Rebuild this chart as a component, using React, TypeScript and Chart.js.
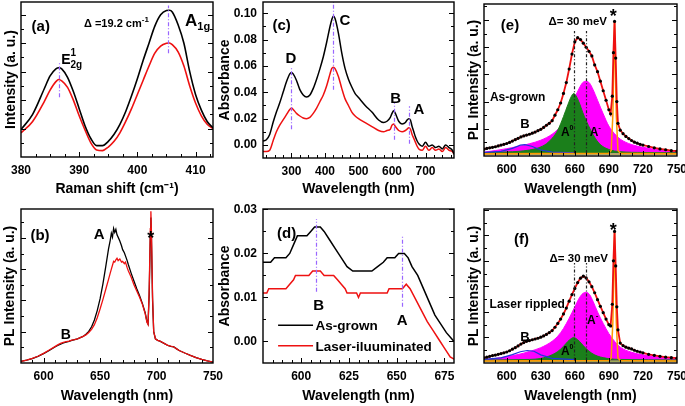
import React, { useEffect, useRef } from 'react';
import { Chart, registerables } from 'chart.js';

Chart.register(...registerables);

const FONT = '"Liberation Sans", Arial, Helvetica, sans-serif';
const W = 685;
const H = 406;
const RED = '#ee1111';
const PURPLE = '#9966ff';

// ---------------- (a) Raman ----------------
const ramanShift = [380, 382, 384, 385, 386, 386.5, 387, 388, 389, 390, 391, 392, 393, 394, 395, 396, 397, 398, 399, 400, 401, 402, 403, 404, 405, 405.5, 406, 407, 408, 409, 410, 411, 412, 413];
const ramanAsGrown = [1.93, 3.0, 4.8, 5.7, 6.2, 6.28, 6.2, 5.6, 4.6, 3.4, 2.2, 1.3, 0.8, 0.8, 1.1, 1.6, 2.3, 3.2, 4.3, 5.5, 6.8, 8.0, 9.2, 10.0, 10.3, 10.32, 10.2, 9.3, 8.0, 6.0, 4.4, 3.3, 2.5, 2.05];
const ramanLaser = [1.7, 2.5, 3.9, 4.7, 5.3, 5.45, 5.35, 4.9, 4.0, 2.9, 1.9, 1.0, 0.5, 0.45, 0.7, 1.1, 1.7, 2.5, 3.4, 4.4, 5.4, 6.4, 7.3, 7.8, 8.0, 8.02, 7.9, 7.4, 6.4, 5.0, 3.8, 2.9, 2.3, 2.0];
const ramanTicks = [380, 390, 400, 410];

// ---------------- (b) PL ----------------
const bWl = [580, 585, 590, 595, 600, 605, 610, 612.5, 615, 617.5, 620, 622.5, 625, 627.5, 630, 632.5, 635, 637.5, 640, 642.5, 645, 647.5, 650, 652.5, 655, 657.5, 659, 660, 661, 662, 663, 664, 665, 666, 667.5, 669, 670, 671.5, 672.5, 674, 675, 677.5, 680, 682.5, 685, 687.5, 690, 691.5, 692.5, 693.5, 694.5, 695, 695.5, 696.5, 697.5, 699, 701, 703, 705, 707.5, 710, 712.5, 715, 717.5, 720, 725, 730, 735, 740, 745, 750];
const bAsGrown = [0.10, 0.18, 0.28, 0.42, 0.60, 0.80, 1.02, 1.12, 1.20, 1.28, 1.34, 1.38, 1.44, 1.50, 1.55, 1.62, 1.70, 1.84, 2.02, 2.32, 2.75, 3.35, 4.10, 5.05, 6.15, 7.30, 7.85, 8.30, 8.05, 8.60, 8.35, 8.55, 8.20, 8.05, 7.80, 7.50, 7.25, 7.05, 6.85, 6.55, 6.30, 5.75, 5.25, 4.75, 4.30, 3.80, 3.20, 2.65, 2.50, 4.40, 8.10, 9.30, 8.00, 4.00, 2.00, 1.55, 1.45, 1.40, 1.32, 1.22, 1.12, 1.06, 1.04, 0.92, 0.80, 0.64, 0.49, 0.35, 0.23, 0.13, 0.06];
const bLaser = [0.10, 0.18, 0.29, 0.43, 0.62, 0.83, 1.05, 1.16, 1.26, 1.32, 1.36, 1.40, 1.46, 1.50, 1.55, 1.62, 1.70, 1.80, 1.95, 2.15, 2.45, 2.90, 3.45, 4.05, 4.70, 5.35, 5.75, 6.00, 6.25, 6.50, 6.45, 6.60, 6.70, 6.55, 6.65, 6.45, 6.50, 6.35, 6.45, 6.10, 5.90, 5.50, 5.00, 4.60, 4.20, 3.75, 3.15, 2.60, 2.45, 4.70, 8.60, 9.70, 8.40, 4.20, 2.00, 1.55, 1.45, 1.40, 1.33, 1.22, 1.13, 1.08, 1.04, 0.92, 0.80, 0.64, 0.49, 0.35, 0.23, 0.13, 0.06];
const bTicks = [600, 650, 700, 750];

// ---------------- (c) Absorbance ----------------
const cWl = [215, 225, 235, 245, 255, 265, 275, 285, 295, 300, 305, 315, 325, 335, 345, 355, 365, 375, 385, 395, 405, 415, 420, 425, 430, 440, 450, 460, 470, 480, 490, 500, 520, 540, 560, 575, 585, 595, 600, 605, 610, 620, 630, 640, 645, 650, 655, 660, 665, 670, 675, 680, 690, 700, 710, 720, 730, 740, 750, 760, 770, 780, 785];
const cAsGrown = [0.003, 0.004, 0.008, 0.017, 0.025, 0.032, 0.040, 0.048, 0.054, 0.055, 0.054, 0.049, 0.042, 0.038, 0.0365, 0.038, 0.043, 0.050, 0.058, 0.067, 0.078, 0.090, 0.095, 0.098, 0.096, 0.085, 0.070, 0.058, 0.050, 0.044, 0.039, 0.036, 0.030, 0.025, 0.019, 0.017, 0.018, 0.021, 0.024, 0.026, 0.024, 0.018, 0.016, 0.017, 0.019, 0.020, 0.019, 0.014, 0.010, 0.006, 0.003, 0.001, -0.001, 0.002, -0.001, 0.000, -0.002, -0.001, -0.003, 0.000, -0.002, -0.004, -0.007];
const cLaser = [-0.005, -0.005, -0.004, 0.003, 0.010, 0.015, 0.019, 0.023, 0.027, 0.028, 0.027, 0.024, 0.022, 0.0205, 0.020, 0.021, 0.024, 0.028, 0.033, 0.038, 0.045, 0.054, 0.058, 0.059, 0.058, 0.052, 0.043, 0.035, 0.030, 0.025, 0.022, 0.020, 0.017, 0.014, 0.011, 0.010, 0.011, 0.012, 0.015, 0.016, 0.014, 0.011, 0.010, 0.011, 0.012, 0.013, 0.012, 0.008, 0.005, 0.002, -0.001, -0.003, -0.004, -0.001, -0.004, -0.002, -0.004, -0.003, -0.005, -0.002, -0.004, -0.005, -0.007];
const cXTicks = [300, 400, 500, 600, 700];
const cYTicks = [0, 0.02, 0.04, 0.06, 0.08, 0.1];

// ---------------- (d) Absorbance zoom ----------------
const dWlAsGrown = [580, 584, 586, 592, 594, 596, 598, 603, 605, 607, 610, 612, 615, 618, 621, 624, 627, 637, 640, 643, 645, 649, 651, 654, 656, 658, 661, 664, 667, 670, 673, 676, 680];
const dAsGrown = [0.018, 0.018, 0.019, 0.019, 0.020, 0.022, 0.024, 0.024, 0.025, 0.026, 0.026, 0.025, 0.023, 0.021, 0.019, 0.017, 0.016, 0.016, 0.017, 0.018, 0.019, 0.019, 0.020, 0.020, 0.019, 0.017, 0.015, 0.012, 0.009, 0.006, 0.004, 0.002, 0.000];
const dWlLaser = [580, 582, 583, 592, 594, 596, 597, 604, 606, 610, 612, 617, 619, 621, 623, 624, 629, 630, 631, 645, 646, 653, 655, 657, 660, 663, 666, 669, 672, 675, 678, 680];
const dLaser = [0.011, 0.011, 0.012, 0.012, 0.013, 0.014, 0.015, 0.015, 0.016, 0.016, 0.015, 0.015, 0.014, 0.013, 0.012, 0.011, 0.011, 0.010, 0.011, 0.011, 0.012, 0.012, 0.013, 0.012, 0.0095, 0.007, 0.0045, 0.0025, 0.0005, -0.0015, -0.0035, -0.004];
const dXTicks = [600, 625, 650, 675];
const dYTicks = [0, 0.01, 0.02, 0.03];

// ---------------- (e) PL fit, as-grown ----------------
const eWl = [580, 582.5, 585, 587.5, 590, 592.5, 595, 597.5, 600, 602.5, 605, 607.5, 610, 612.5, 615, 617.5, 620, 622.5, 625, 627.5, 630, 632.5, 635, 637.5, 640, 642.5, 645, 647.5, 650, 652.5, 655, 657.5, 660, 662.5, 665, 667.5, 670, 672.5, 675, 677.5, 680, 682.5, 685, 687.5, 690, 691.5, 693, 694, 695, 696, 697, 698, 700, 702.5, 705, 707.5, 710, 712.5, 715, 717.5, 720, 725, 730, 735, 740, 745, 750];
const eTotal = [0.25, 0.28, 0.30, 0.32, 0.34, 0.37, 0.40, 0.43, 0.46, 0.50, 0.55, 0.60, 0.65, 0.70, 0.74, 0.77, 0.80, 0.84, 0.88, 0.93, 0.98, 1.05, 1.13, 1.20, 1.30, 1.50, 1.70, 1.95, 2.30, 2.70, 3.20, 3.75, 4.20, 4.35, 4.28, 4.15, 4.00, 3.85, 3.68, 3.35, 3.10, 2.75, 2.40, 2.05, 1.70, 1.55, 2.20, 3.80, 4.95, 3.60, 2.00, 1.20, 0.95, 0.82, 0.72, 0.64, 0.57, 0.51, 0.47, 0.43, 0.40, 0.35, 0.30, 0.26, 0.23, 0.20, 0.18];
const eGreenWl = [580, 600, 610, 620, 628, 635, 640, 645, 650, 654, 657, 659, 661, 664, 667, 670, 674, 678, 683, 690, 700, 720, 750];
const eGreen = [0.12, 0.15, 0.17, 0.22, 0.30, 0.45, 0.65, 0.95, 1.45, 1.90, 2.20, 2.30, 2.22, 1.95, 1.60, 1.30, 0.95, 0.65, 0.40, 0.24, 0.16, 0.13, 0.12];
const eMagWl = [580, 590, 600, 610, 620, 630, 640, 645, 650, 655, 660, 664, 667, 670, 673, 676, 680, 685, 690, 695, 700, 710, 720, 735, 750];
const eMag = [0.14, 0.20, 0.27, 0.35, 0.45, 0.58, 0.80, 0.98, 1.25, 1.65, 2.15, 2.50, 2.70, 2.75, 2.68, 2.45, 2.05, 1.55, 1.10, 0.82, 0.62, 0.42, 0.32, 0.23, 0.18];
const eBlueWl = [580, 595, 605, 612, 616, 622, 630, 640, 660];
const eBlue = [0.13, 0.17, 0.28, 0.40, 0.42, 0.36, 0.22, 0.14, 0.12];
const eLaserWl = [580, 690, 692, 693.5, 695, 696.5, 698, 700, 750];
const eLaser = [0.08, 0.10, 0.20, 1.50, 4.95, 1.50, 0.20, 0.10, 0.08];
const baseWl = [580, 750];
const eBase = [0.07, 0.07];

// ---------------- (f) PL fit, laser rippled ----------------
const fWl = eWl;
const fTotal = [0.20, 0.23, 0.26, 0.29, 0.31, 0.34, 0.37, 0.40, 0.43, 0.48, 0.54, 0.60, 0.67, 0.74, 0.80, 0.85, 0.88, 0.91, 0.94, 0.97, 1.01, 1.06, 1.12, 1.19, 1.27, 1.40, 1.55, 1.72, 1.92, 2.15, 2.42, 2.68, 2.92, 3.15, 3.32, 3.40, 3.33, 3.18, 2.99, 2.75, 2.48, 2.22, 1.97, 1.72, 1.50, 1.45, 2.30, 4.00, 5.15, 3.80, 2.20, 1.30, 0.78, 0.68, 0.62, 0.58, 0.55, 0.50, 0.46, 0.43, 0.40, 0.34, 0.30, 0.26, 0.23, 0.21, 0.19];
const fGreenWl = [580, 620, 630, 640, 645, 650, 654, 657, 659, 661, 664, 667, 670, 675, 680, 690, 700, 750];
const fGreen = [0.12, 0.14, 0.18, 0.32, 0.45, 0.65, 0.85, 0.96, 1.00, 0.96, 0.85, 0.70, 0.56, 0.38, 0.27, 0.17, 0.14, 0.12];
const fMagWl = eMagWl;
const fMag = [0.14, 0.18, 0.25, 0.33, 0.45, 0.60, 0.85, 1.05, 1.35, 1.75, 2.20, 2.55, 2.72, 2.77, 2.68, 2.42, 2.00, 1.55, 1.15, 0.85, 0.62, 0.42, 0.32, 0.23, 0.18];
const fBlueWl = [580, 595, 605, 612, 618, 624, 630, 640, 660];
const fBlue = [0.14, 0.20, 0.33, 0.44, 0.49, 0.46, 0.32, 0.18, 0.13];
const fLaser = [0.08, 0.10, 0.20, 1.60, 5.10, 1.60, 0.20, 0.10, 0.08];
const fBase = [0.07, 0.07];
const efTicks = [600, 630, 660, 690, 720, 750];

// ---------------- types & helpers ----------------
type Seg = { t: string; s: number; dy?: number; noAdv?: boolean };
type Note = { x: number; y: number; parts: Seg[]; align?: 'left' | 'center'; color?: string };
type VLine = { x: number; y0: number; y1: number; color: string; dash: number[] };
type HLine = { x0: number; x1: number; y: number; color: string };
type Series = { xs: number[]; ys: number[]; color: string; width?: number; fill?: string; fillTo?: number; dots?: boolean; smooth?: boolean };
type Panel = {
  box: { L: number; R: number; T: number; B: number };
  yTitleX: number; xTitleY: number;
  xMin: number; xMax: number; yMin: number; yMax: number;
  xMajor: number[]; xMinor: number[]; yMajor: number[]; yMinor: number[];
  yLabels: boolean; xTitle: string; yTitle: string;
  series: Series[]; notes: Note[]; vlines: VLine[]; hlines: HLine[];
};

const range = (a: number, b: number, step: number) => {
  const out: number[] = [];
  for (let v = a; v <= b + 1e-9; v += step) out.push(+v.toFixed(5));
  return out;
};
const minorsOf = (a: number, b: number, step: number, majors: number[]) =>
  range(a, b, step).filter((v) => !majors.some((m) => Math.abs(m - v) < 1e-9));

const t = (s: string, size = 14): Seg[] => [{ t: s, s: size }];

const ROW2_B = 363;
const ROW2_TITLE = 396;

const panels: Panel[] = [
  {
    box: { L: 21, R: 213, T: 2, B: 157 }, yTitleX: 11, xTitleY: 189,
    xMin: 380, xMax: 413, yMin: 0, yMax: 10.9,
    xMajor: ramanTicks, xMinor: minorsOf(382.5, 412.5, 2.5, ramanTicks),
    yMajor: [2, 4, 6, 8, 10], yMinor: [1, 3, 5, 7, 9], yLabels: false,
    xTitle: 'Raman shift (cm\u207B\u00B9)', yTitle: 'Intensity (a. u.)',
    series: [
      { xs: ramanShift, ys: ramanAsGrown, color: '#000', width: 1.6, smooth: true },
      { xs: ramanShift, ys: ramanLaser, color: RED, width: 1.6, smooth: true },
    ],
    vlines: [
      { x: 386.5, y0: 4.2, y1: 6.6, color: PURPLE, dash: [4, 2, 1, 2] },
      { x: 405.3, y0: 7.3, y1: 10.65, color: PURPLE, dash: [4, 2, 1, 2] },
    ],
    hlines: [],
    notes: [
      { x: 383.4, y: 9.25, parts: t('(a)', 15), align: 'center' },
      { x: 396.4, y: 9.4, parts: [{ t: '\u0394 =19.2 cm', s: 11 }, { t: '-1', s: 8, dy: -5 }], align: 'center' },
      { x: 408.2, y: 9.63, parts: [{ t: 'A', s: 17 }, { t: '1g', s: 11, dy: 4 }], align: 'left' },
      { x: 386.9, y: 6.9, parts: [{ t: 'E', s: 14 }, { t: '1', s: 10, dy: -8, noAdv: true }, { t: '2g', s: 10, dy: 4 }], align: 'left' },
    ],
  },
  {
    box: { L: 21, R: 213, T: 209, B: ROW2_B }, yTitleX: 10, xTitleY: ROW2_TITLE,
    xMin: 580, xMax: 750, yMin: 0, yMax: 9.85,
    xMajor: bTicks, xMinor: minorsOf(590, 740, 10, bTicks),
    yMajor: [2, 4, 6, 8], yMinor: [1, 3, 5, 7, 9], yLabels: false,
    xTitle: 'Wavelength (nm)', yTitle: 'PL Intensity (a. u.)',
    series: [
      { xs: bWl, ys: bLaser, color: RED, width: 1.3 },
      { xs: bWl, ys: bAsGrown, color: '#000', width: 1.3 },
    ],
    vlines: [], hlines: [],
    notes: [
      { x: 596.8, y: 8.24, parts: t('(b)', 15), align: 'center' },
      { x: 649.1, y: 8.29, parts: t('A', 15), align: 'center' },
      { x: 694.8, y: 8.33, parts: [{ t: '*', s: 18, dy: 5 }], align: 'center' },
      { x: 619.6, y: 1.85, parts: t('B', 14), align: 'center' },
    ],
  },
  {
    box: { L: 263, R: 454, T: 2, B: 158 }, yTitleX: 225, xTitleY: 189,
    xMin: 215, xMax: 785, yMin: -0.0099, yMax: 0.1086,
    xMajor: cXTicks, xMinor: minorsOf(225, 775, 25, cXTicks),
    yMajor: cYTicks, yMinor: [0.01, 0.03, 0.05, 0.07, 0.09], yLabels: true,
    xTitle: 'Wavelength (nm)', yTitle: 'Absorbance',
    series: [
      { xs: cWl, ys: cAsGrown, color: '#000', width: 1.5, smooth: true },
      { xs: cWl, ys: cLaser, color: RED, width: 1.5, smooth: true },
    ],
    vlines: [
      { x: 300, y0: 0.012, y1: 0.059, color: PURPLE, dash: [4, 2, 1, 2] },
      { x: 425, y0: 0.042, y1: 0.1086, color: PURPLE, dash: [4, 2, 1, 2] },
      { x: 605, y0: 0.004, y1: 0.032, color: PURPLE, dash: [4, 2, 1, 2] },
      { x: 652, y0: 0.001, y1: 0.0295, color: PURPLE, dash: [4, 2, 1, 2] },
    ],
    hlines: [],
    notes: [
      { x: 270.8, y: 0.0911, parts: t('(c)', 15), align: 'center' },
      { x: 298.6, y: 0.066, parts: t('D', 15), align: 'center' },
      { x: 459.7, y: 0.0949, parts: t('C', 15), align: 'center' },
      { x: 611, y: 0.0358, parts: t('B', 15), align: 'center' },
      { x: 680.5, y: 0.028, parts: t('A', 15), align: 'center' },
    ],
  },
  {
    box: { L: 263, R: 454, T: 209, B: ROW2_B }, yTitleX: 225, xTitleY: ROW2_TITLE,
    xMin: 580, xMax: 680, yMin: -0.0049, yMax: 0.0301,
    xMajor: dXTicks, xMinor: minorsOf(585, 680, 5, dXTicks),
    yMajor: dYTicks, yMinor: [0.005, 0.015, 0.025], yLabels: true,
    xTitle: 'Wavelength (nm)', yTitle: 'Absorbance',
    series: [
      { xs: dWlAsGrown, ys: dAsGrown, color: '#000', width: 1.5 },
      { xs: dWlLaser, ys: dLaser, color: RED, width: 1.5 },
    ],
    vlines: [
      { x: 608, y0: 0.0113, y1: 0.0278, color: PURPLE, dash: [4, 2, 1, 2] },
      { x: 653, y0: 0.0079, y1: 0.0241, color: PURPLE, dash: [4, 2, 1, 2] },
    ],
    hlines: [
      { x0: 587.9, x1: 606.2, y: 0.0037, color: '#000' },
      { x0: 587.9, x1: 606.2, y: -0.001, color: RED },
    ],
    notes: [
      { x: 592.4, y: 0.0248, parts: t('(d)', 15), align: 'center' },
      { x: 609.1, y: 0.0083, parts: t('B', 15), align: 'center' },
      { x: 652.8, y: 0.005, parts: t('A', 15), align: 'center' },
      { x: 607.5, y: 0.0037, parts: t('As-grown', 13.5), align: 'left' },
      { x: 607.5, y: -0.001, parts: t('Laser-iluuminated', 13.5), align: 'left' },
    ],
  },
  {
    box: { L: 484, R: 677, T: 2, B: 156 }, yTitleX: 474, xTitleY: 189,
    xMin: 580, xMax: 750, yMin: 0, yMax: 5.59,
    xMajor: efTicks, xMinor: minorsOf(590, 740, 10, efTicks),
    yMajor: [1, 2, 3, 4, 5], yMinor: [0.5, 1.5, 2.5, 3.5, 4.5, 5.5], yLabels: false,
    xTitle: 'Wavelength (nm)', yTitle: 'PL Intensity (a. u.)',
    series: [
      { xs: eWl, ys: eTotal, color: '#000', dots: true },
      { xs: eWl, ys: eTotal, color: RED, width: 1.8 },
      { xs: eLaserWl, ys: eLaser, color: '#ff9900', width: 1.5 },
      { xs: eBlueWl, ys: eBlue, color: '#2233dd', width: 1.2 },
      { xs: baseWl, ys: eBase, color: '#a08c28', width: 1.2 },
      { xs: eGreenWl, ys: eGreen, color: '#1b7f1b', width: 1, fill: '#1b7f1b', fillTo: 0.1, smooth: true },
      { xs: eMagWl, ys: eMag, color: '#ff00ff', width: 1, fill: '#ff00ff', fillTo: 0.1, smooth: true },
    ],
    vlines: [
      { x: 659, y0: 0.1, y1: 4.6, color: '#222', dash: [3, 2, 1, 2] },
      { x: 670, y0: 0.1, y1: 4.6, color: '#222', dash: [3, 2, 1, 2] },
    ],
    hlines: [],
    notes: [
      { x: 602.9, y: 4.84, parts: t('(e)', 15), align: 'center' },
      { x: 662.6, y: 4.96, parts: t('\u0394= 30 meV', 11.5), align: 'center' },
      { x: 693.8, y: 5.34, parts: [{ t: '*', s: 18, dy: 5 }], align: 'center' },
      { x: 609.6, y: 2.18, parts: t('As-grown', 12), align: 'center' },
      { x: 616, y: 1.19, parts: t('B', 13), align: 'center' },
      { x: 653.3, y: 0.9, parts: [{ t: 'A', s: 12 }, { t: '0', s: 7, dy: -6 }], align: 'center' },
      { x: 678.1, y: 0.9, parts: [{ t: 'A', s: 12 }, { t: '-', s: 8, dy: -6 }], align: 'center' },
    ],
  },
  {
    box: { L: 484, R: 677, T: 209, B: ROW2_B }, yTitleX: 474, xTitleY: ROW2_TITLE,
    xMin: 580, xMax: 750, yMin: 0, yMax: 6.03,
    xMajor: efTicks, xMinor: minorsOf(590, 740, 10, efTicks),
    yMajor: [1, 2, 3, 4, 5, 6], yMinor: [0.5, 1.5, 2.5, 3.5, 4.5, 5.5], yLabels: false,
    xTitle: 'Wavelength (nm)', yTitle: 'PL Intensity (a. u.)',
    series: [
      { xs: fWl, ys: fTotal, color: '#000', dots: true },
      { xs: fWl, ys: fTotal, color: RED, width: 1.8 },
      { xs: eLaserWl, ys: fLaser, color: '#ff9900', width: 1.5 },
      { xs: fBlueWl, ys: fBlue, color: '#2233dd', width: 1.2 },
      { xs: baseWl, ys: fBase, color: '#7a8a20', width: 1.2 },
      { xs: fGreenWl, ys: fGreen, color: '#1b7f1b', width: 1, fill: '#1b7f1b', fillTo: 0.1, smooth: true },
      { xs: fMagWl, ys: fMag, color: '#ff00ff', width: 1, fill: '#ff00ff', fillTo: 0.1, smooth: true },
    ],
    vlines: [
      { x: 659, y0: 0.1, y1: 3.92, color: '#222', dash: [3, 2, 1, 2] },
      { x: 670, y0: 0.1, y1: 3.92, color: '#222', dash: [3, 2, 1, 2] },
    ],
    hlines: [],
    notes: [
      { x: 613.1, y: 4.87, parts: t('(f)', 15), align: 'center' },
      { x: 663.5, y: 4.1, parts: t('\u0394= 30 meV', 11.5), align: 'center' },
      { x: 693.8, y: 5.42, parts: [{ t: '*', s: 18, dy: 5 }], align: 'center' },
      { x: 618.1, y: 2.31, parts: t('Laser rippled', 12), align: 'center' },
      { x: 616, y: 1.06, parts: t('B', 13), align: 'center' },
      { x: 653.3, y: 0.49, parts: [{ t: 'A', s: 12 }, { t: '0', s: 7, dy: -6 }], align: 'center' },
      { x: 675.7, y: 1.71, parts: [{ t: 'A', s: 12 }, { t: '-', s: 8, dy: -6 }], align: 'center' },
    ],
  },
];

function drawParts(ctx: CanvasRenderingContext2D, px: number, py: number, parts: Seg[], align: string, color: string) {
  const main = parts[0].s;
  const widths = parts.map((p) => {
    ctx.font = `bold ${p.s}px ${FONT}`;
    return ctx.measureText(p.t).width;
  });
  const total = parts.reduce((acc, p, i) => acc + (p.noAdv ? 0 : widths[i]), 0);
  let cx = align === 'center' ? px - total / 2 : px;
  const base = py + main * 0.36;
  ctx.fillStyle = color;
  ctx.textAlign = 'left';
  ctx.textBaseline = 'alphabetic';
  parts.forEach((p, i) => {
    ctx.font = `bold ${p.s}px ${FONT}`;
    ctx.fillText(p.t, cx, base + (p.dy ?? 0));
    if (!p.noAdv) cx += widths[i];
  });
}

function decor(p: Panel) {
  return {
    id: 'decor',
    afterDatasetsDraw(chart: any) {
      const { ctx, chartArea: a } = chart;
      const xs = chart.scales.x;
      const ys = chart.scales.y;
      ctx.save();
      for (const v of p.vlines) {
        ctx.beginPath();
        ctx.setLineDash(v.dash);
        ctx.strokeStyle = v.color;
        ctx.lineWidth = 1.2;
        const px = Math.round(xs.getPixelForValue(v.x)) + 0.5;
        ctx.moveTo(px, ys.getPixelForValue(v.y0));
        ctx.lineTo(px, ys.getPixelForValue(v.y1));
        ctx.stroke();
      }
      ctx.setLineDash([]);
      for (const h of p.hlines) {
        ctx.beginPath();
        ctx.strokeStyle = h.color;
        ctx.lineWidth = 1.5;
        const py = ys.getPixelForValue(h.y);
        ctx.moveTo(xs.getPixelForValue(h.x0), py);
        ctx.lineTo(xs.getPixelForValue(h.x1), py);
        ctx.stroke();
      }
      ctx.strokeStyle = '#000';
      ctx.lineWidth = 1.4;
      ctx.strokeRect(a.left, a.top, a.right - a.left, a.bottom - a.top);
      ctx.lineWidth = 1;
      const line = (x0: number, y0: number, x1: number, y1: number) => {
        ctx.beginPath();
        ctx.moveTo(x0, y0);
        ctx.lineTo(x1, y1);
        ctx.stroke();
      };
      const xt = (vals: number[], len: number) => vals.forEach((v) => {
        if (v <= p.xMin || v >= p.xMax) return;
        const px = Math.round(xs.getPixelForValue(v)) + 0.5;
        line(px, a.bottom, px, a.bottom - len);
      });
      const yt = (vals: number[], len: number) => vals.forEach((v) => {
        if (v <= p.yMin || v >= p.yMax) return;
        const py = Math.round(ys.getPixelForValue(v)) + 0.5;
        line(a.left, py, a.left + len, py);
        line(a.right, py, a.right - len, py);
      });
      xt(p.xMajor, 5);
      xt(p.xMinor, 3);
      yt(p.yMajor, 5);
      yt(p.yMinor, 3);
      for (const n of p.notes) {
        drawParts(ctx, xs.getPixelForValue(n.x), ys.getPixelForValue(n.y), n.parts, n.align ?? 'center', n.color ?? '#000');
      }
      ctx.restore();
    },
  };
}

function buildConfig(p: Panel): any {
  const datasets = p.series.map((s) => ({
    data: s.xs.map((x, i) => ({ x, y: s.ys[i] })),
    borderColor: s.color,
    backgroundColor: s.fill ?? s.color,
    borderWidth: s.dots ? 0 : s.width ?? 1.5,
    showLine: !s.dots,
    pointRadius: s.dots ? 1.6 : 0,
    pointBackgroundColor: s.color,
    pointBorderWidth: 0,
    fill: s.fill ? { value: s.fillTo ?? 0 } : false,
    cubicInterpolationMode: s.smooth ? 'monotone' : 'default',
    tension: 0,
  }));
  const tickFont = { family: FONT, size: 12, weight: 'bold' };
  const titleFont = { family: FONT, size: 14, weight: 'bold', lineHeight: 1.2 };
  const half = 8.4;
  return {
    type: 'line',
    data: { datasets },
    options: {
      animation: false,
      responsive: false,
      devicePixelRatio: 1,
      events: [],
      layout: { padding: { left: p.yTitleX - half, right: W - p.box.R, top: p.box.T, bottom: H - (p.xTitleY + half) } },
      plugins: { legend: { display: false }, tooltip: { enabled: false } },
      scales: {
        x: {
          type: 'linear', position: 'bottom', min: p.xMin, max: p.xMax,
          grid: { display: false, drawTicks: false }, border: { display: false },
          ticks: { font: tickFont, color: '#000', padding: 6, maxRotation: 0, autoSkip: false, callback: (v: number) => String(v) },
          afterBuildTicks: (s: any) => { s.ticks = p.xMajor.map((value) => ({ value })); },
          title: { display: true, text: p.xTitle, font: titleFont, color: '#000', padding: 0 },
          afterFit: (s: any) => { s.height = p.xTitleY + half - p.box.B; s.paddingLeft = 0; s.paddingRight = 0; },
        },
        y: {
          type: 'linear', position: 'left', min: p.yMin, max: p.yMax,
          grid: { display: false, drawTicks: false }, border: { display: false },
          ticks: { display: p.yLabels, font: tickFont, color: '#000', padding: 6, autoSkip: false, callback: (v: number) => v.toFixed(2) },
          afterBuildTicks: (s: any) => { s.ticks = p.yMajor.map((value) => ({ value })); },
          title: { display: true, text: p.yTitle, font: titleFont, color: '#000', padding: 0 },
          afterFit: (s: any) => { s.width = p.box.L - (p.yTitleX - half); s.paddingTop = 0; s.paddingBottom = 0; },
        },
      },
    },
    plugins: [decor(p)],
  };
}

function PanelCanvas({ panel }: { panel: Panel }) {
  const ref = useRef<HTMLCanvasElement>(null);
  useEffect(() => {
    const chart = new Chart(ref.current as HTMLCanvasElement, buildConfig(panel));
    return () => chart.destroy();
  }, [panel]);
  return (
    <canvas
      ref={ref}
      width={W}
      height={H}
      style={{ position: 'absolute', left: 0, top: 0, width: W, height: H }}
    />
  );
}

export default function App() {
  return (
    <div style={{ position: 'absolute', left: 0, top: 0, width: W, height: H, background: '#fff', overflow: 'hidden' }}>
      {panels.map((p, i) => (
        <PanelCanvas key={i} panel={p} />
      ))}
    </div>
  );
}
